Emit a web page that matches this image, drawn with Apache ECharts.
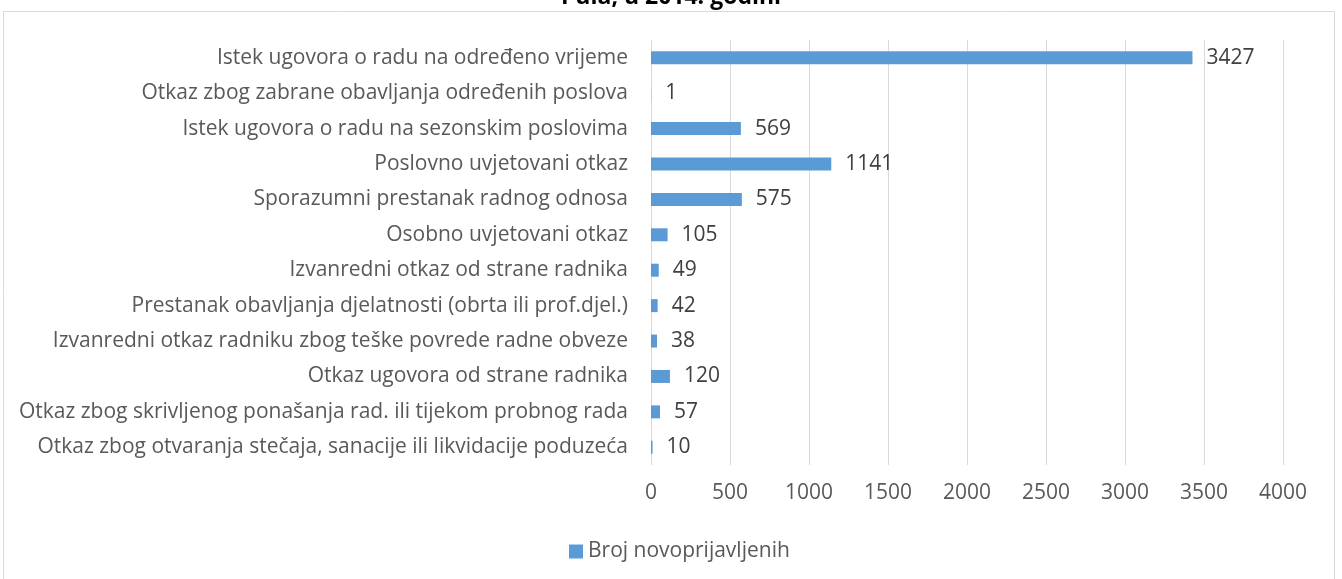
<!DOCTYPE html>
<html lang="en">
<head>
    <meta charset="utf-8">
    <script src="https://cdn.jsdelivr.net/npm/echarts@6/dist/echarts.min.js"></script>
    <style>
        html, body { margin: 0; padding: 0; background: #fff; }
        #main { width: 1342px; height: 579px; }
    </style>
</head>
<body>
<div id="main"></div>
<script>
    // razlozi prestanka radnog odnosa
    var categories = [
        'Istek ugovora o radu na određeno vrijeme',
        'Otkaz zbog zabrane obavljanja određenih poslova',
        'Istek ugovora o radu na sezonskim poslovima',
        'Poslovno uvjetovani otkaz',
        'Sporazumni prestanak radnog odnosa',
        'Osobno uvjetovani otkaz',
        'Izvanredni otkaz od strane radnika',
        'Prestanak obavljanja djelatnosti (obrta ili prof.djel.)',
        'Izvanredni otkaz radniku zbog teške povrede radne obveze',
        'Otkaz ugovora od strane radnika',
        'Otkaz zbog skrivljenog ponašanja rad. ili tijekom probnog rada',
        'Otkaz zbog otvaranja stečaja, sanacije ili likvidacije poduzeća'
    ];
    var values = [3427, 1, 569, 1141, 575, 105, 49, 42, 38, 120, 57, 10];
    var seriesName = 'Broj novoprijavljenih';
    var titleText = 'Pula, u 2014. godini';

    var font = '"Open Sans", "Noto Sans", sans-serif';
    var myChart = echarts.init(document.getElementById('main'));
    myChart.setOption({
        backgroundColor: '#fff',
        animation: false,
        title: {
            text: titleText,
            left: 'center',
            top: -19,
            textStyle: { fontFamily: font, fontSize: 23, fontWeight: 'bold', color: '#000' }
        },
        graphic: [{
            type: 'rect',
            shape: { x: 3.5, y: 11.5, width: 1331, height: 600 },
            style: { fill: '#fff', stroke: '#d9d9d9', lineWidth: 1 },
            z: -10,
            silent: true
        }],
        legend: {
            data: [seriesName],
            top: 536,
            left: 564,
            icon: 'rect',
            itemWidth: 14,
            itemHeight: 14,
            itemGap: 5,
            textStyle: { fontFamily: font, fontSize: 21, color: '#595959' }
        },
        grid: { left: 651, right: 59, top: 40, height: 425, containLabel: false },
        xAxis: {
            type: 'value',
            min: 0,
            max: 4000,
            interval: 500,
            axisLine: { show: false },
            axisTick: { show: false },
            axisLabel: {
                fontFamily: font, fontSize: 21, color: '#595959', margin: 18,
                formatter: function (v) { return String(v); }
            },
            splitLine: { lineStyle: { color: '#d9d9d9', width: 1 } }
        },
        yAxis: {
            type: 'category',
            data: categories,
            inverse: true,
            axisLine: { show: false },
            axisTick: { show: false },
            axisLabel: { fontFamily: font, fontSize: 21, color: '#595959', margin: 23 }
        },
        series: [{
            name: seriesName,
            type: 'bar',
            data: values,
            barWidth: 13,
            itemStyle: { color: '#5b9bd5' },
            label: {
                show: true,
                position: 'right',
                distance: 14,
                fontFamily: font,
                fontSize: 21,
                color: '#404040'
            }
        }]
    });
</script>
</body>
</html>
